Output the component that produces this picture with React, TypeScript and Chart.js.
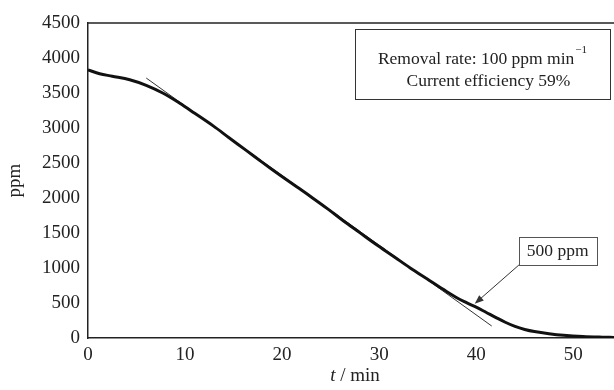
import React, { useEffect, useRef } from "react";
import { Chart, registerables } from "chart.js";

Chart.register(...registerables);

// Measured concentration curve
const times = [0, 1.2, 2.5, 4.3, 6, 7.7, 9.5, 11, 12.9, 14.5, 16.3, 18, 19.8, 21.5, 23, 24.7, 26.3, 28, 29.7, 31.5, 33.2, 35, 36.6, 38, 39, 40, 41, 42, 43, 44, 45, 46, 47.5, 49, 51, 53, 54.5];
const ppmValues = [3830, 3775, 3740, 3690, 3610, 3500, 3350, 3210, 3030, 2865, 2680, 2505, 2325, 2160, 2015, 1845, 1675, 1505, 1335, 1165, 1000, 838, 695, 575, 505, 440, 368, 295, 225, 165, 122, 92, 62, 40, 22, 12, 7];

// Fitted removal-rate line
const fitTimes = [6, 41.6];
const fitPpm = [3714, 171];

// Axis ticks
const xTicks = [0, 10, 20, 30, 40, 50];
const yTicks = [0, 500, 1000, 1500, 2000, 2500, 3000, 3500, 4000, 4500];

const FONT = "'Liberation Serif', 'Times New Roman', serif";
const TEXT = "#222";

const annotations = {
  id: "annotations",
  afterDraw(chart: any) {
    const { ctx, chartArea, scales } = chart;
    const xs = scales.x;
    const ys = scales.y;
    ctx.save();
    // top frame line
    ctx.strokeStyle = "#222";
    ctx.lineWidth = 1.5;
    ctx.beginPath();
    ctx.moveTo(chartArea.left, chartArea.top);
    ctx.lineTo(chartArea.right, chartArea.top);
    ctx.stroke();

    // info box
    const bx1 = xs.getPixelForValue(27.5);
    const bx2 = chartArea.right - 4;
    const by1 = ys.getPixelForValue(4410);
    const by2 = ys.getPixelForValue(3410);
    ctx.fillStyle = "#fff";
    ctx.fillRect(bx1, by1, bx2 - bx1, by2 - by1);
    ctx.strokeStyle = "#333";
    ctx.lineWidth = 1;
    ctx.strokeRect(Math.round(bx1) + 0.5, Math.round(by1) + 0.5, Math.round(bx2 - bx1), Math.round(by2 - by1));
    ctx.fillStyle = TEXT;
    ctx.textBaseline = "alphabetic";
    ctx.font = `17.5px ${FONT}`;
    const l1 = "Removal rate: 100 ppm min";
    const sup = "\u22121";
    const w1 = ctx.measureText(l1).width;
    ctx.font = `11px ${FONT}`;
    const ws = ctx.measureText(sup).width;
    const cx = (bx1 + bx2) / 2;
    let sx = cx - (w1 + ws + 1) / 2;
    ctx.font = `17.5px ${FONT}`;
    ctx.textAlign = "left";
    ctx.fillText(l1, sx, by1 + 35);
    ctx.font = `11px ${FONT}`;
    ctx.fillText(sup, sx + w1 + 1, by1 + 24);
    ctx.font = `17.5px ${FONT}`;
    ctx.textAlign = "center";
    ctx.fillText("Current efficiency 59%", cx + 6, by1 + 57);

    // 500 ppm box
    const px1 = xs.getPixelForValue(44.4);
    const px2 = xs.getPixelForValue(52.4);
    const py1 = ys.getPixelForValue(1440);
    const py2 = ys.getPixelForValue(1043);
    ctx.fillStyle = "#fff";
    ctx.fillRect(px1, py1, px2 - px1, py2 - py1);
    ctx.strokeStyle = "#555";
    ctx.strokeRect(Math.round(px1) + 0.5, Math.round(py1) + 0.5, Math.round(px2 - px1), Math.round(py2 - py1));
    ctx.fillStyle = TEXT;
    ctx.textAlign = "center";
    ctx.textBaseline = "middle";
    ctx.fillText("500 ppm", (px1 + px2) / 2, (py1 + py2) / 2);

    // arrow
    const ax1 = px1, ay1 = py2;
    const ax2 = xs.getPixelForValue(39.85);
    const ay2 = ys.getPixelForValue(490);
    const ang = Math.atan2(ay2 - ay1, ax2 - ax1);
    ctx.strokeStyle = "#333";
    ctx.lineWidth = 1;
    ctx.beginPath();
    ctx.moveTo(ax1, ay1);
    ctx.lineTo(ax2 - 5 * Math.cos(ang), ay2 - 5 * Math.sin(ang));
    ctx.stroke();
    ctx.fillStyle = "#333";
    ctx.beginPath();
    ctx.moveTo(ax2, ay2);
    ctx.lineTo(ax2 - 9 * Math.cos(ang) + 3.5 * Math.sin(ang), ay2 - 9 * Math.sin(ang) - 3.5 * Math.cos(ang));
    ctx.lineTo(ax2 - 9 * Math.cos(ang) - 3.5 * Math.sin(ang), ay2 - 9 * Math.sin(ang) + 3.5 * Math.cos(ang));
    ctx.closePath();
    ctx.fill();

    // x-axis title: italic t / min
    ctx.fillStyle = TEXT;
    ctx.textBaseline = "alphabetic";
    ctx.textAlign = "left";
    ctx.font = `italic 19px ${FONT}`;
    const tW = ctx.measureText("t").width;
    ctx.font = `19px ${FONT}`;
    const rest = " / min";
    const rW = ctx.measureText(rest).width;
    const tx = (chartArea.left + chartArea.right) / 2 + 4 - (tW + rW) / 2;
    const ty = chartArea.bottom + 43;
    ctx.font = `italic 19px ${FONT}`;
    ctx.fillText("t", tx, ty);
    ctx.font = `19px ${FONT}`;
    ctx.fillText(rest, tx + tW, ty);
    ctx.restore();
  },
};

export default function App() {
  const ref = useRef<HTMLCanvasElement>(null);
  useEffect(() => {
    if (!ref.current) return;
    const chart = new Chart(ref.current, {
      type: "line",
      data: {
        datasets: [
          {
            data: times.map((t, i) => ({ x: t, y: ppmValues[i] })),
            borderColor: "#111",
            borderWidth: 3,
            pointRadius: 0,
            tension: 0.35,
            fill: false,
          },
          {
            data: fitTimes.map((t, i) => ({ x: t, y: fitPpm[i] })),
            borderColor: "#333",
            borderWidth: 1,
            pointRadius: 0,
            fill: false,
          },
        ],
      },
      options: {
        animation: false,
        responsive: true,
        maintainAspectRatio: false,
        layout: { padding: { top: 23, right: 0, left: 0, bottom: 0 } },
        plugins: { legend: { display: false }, tooltip: { enabled: false } },
        scales: {
          x: {
            type: "linear",
            min: 0,
            max: 54.2,
            afterBuildTicks: (s: any) => {
              s.ticks = xTicks.map((v) => ({ value: v }));
            },
            ticks: { includeBounds: false, padding: 6, color: TEXT, font: { family: FONT, size: 19 }, callback: (v: any) => String(v) },
            grid: { display: false, drawTicks: false },
            border: { display: true, color: "#222", width: 1.5 },
            afterFit: (s: any) => {
              s.height = 52;
            },
          },
          y: {
            type: "linear",
            min: 0,
            max: 4500,
            afterBuildTicks: (s: any) => {
              s.ticks = yTicks.map((v) => ({ value: v }));
            },
            ticks: { padding: 8, color: TEXT, font: { family: FONT, size: 19 }, callback: (v: any) => String(v) },
            grid: { display: false, drawTicks: false },
            border: { display: true, color: "#222", width: 1.5 },
            title: { display: true, text: "ppm", color: TEXT, font: { family: FONT, size: 19 } },
            afterFit: (s: any) => {
              s.width = 88;
            },
          },
        },
      },
      plugins: [annotations],
    });
    return () => chart.destroy();
  }, []);
  return (
    <div style={{ position: "fixed", left: 0, top: 0, width: 614, height: 390, background: "#fff" }}>
      <canvas ref={ref} />
    </div>
  );
}
